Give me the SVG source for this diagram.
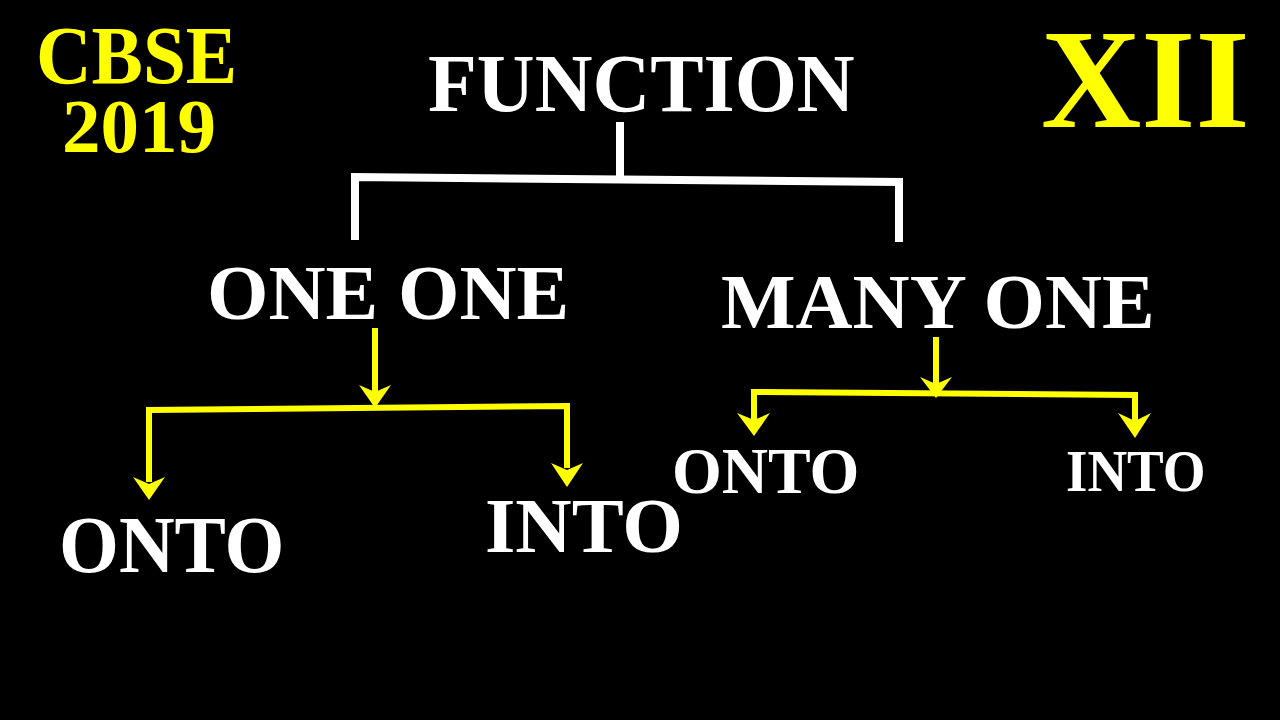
<svg xmlns="http://www.w3.org/2000/svg" width="1280" height="720" viewBox="0 0 1280 720">
  <defs>
    <style>
      text { font-family: "Liberation Serif", "Times New Roman", serif; font-weight: bold; }
      .yel { fill: #ffff00; }
      .wht { fill: #ffffff; }
      .wline { fill: none; stroke: #ffffff; stroke-width: 8; stroke-linecap: butt; stroke-linejoin: miter; }
      .yline { fill: none; stroke: #ffff00; stroke-width: 6; stroke-linecap: butt; stroke-linejoin: miter; }
      .head { fill: #ffff00; }
    </style>
  </defs>
  <rect x="0" y="0" width="1280" height="720" fill="#000000"/>

  <g id="badge-cbse">
    <text class="yel" font-size="77" transform="translate(36 83) scale(1 1.07)">CBSE</text>
    <text class="yel" x="62" y="152" font-size="77">2019</text>
  </g>
  <g id="badge-class">
    <text class="yel" font-size="139" transform="translate(1041 127) scale(1 1.02)">XII</text>
  </g>

  <g id="node-function">
    <text class="wht" font-size="80" transform="translate(428 111) scale(1 1.02)">FUNCTION</text>
  </g>
  <g id="node-one-one">
    <text class="wht" x="207" y="319" font-size="79">ONE ONE</text>
  </g>
  <g id="node-many-one">
    <text class="wht" x="721" y="328" font-size="79">MANY ONE</text>
  </g>
  <g id="node-onto-1">
    <text class="wht" font-size="77" transform="translate(59 572) scale(1 1.04)">ONTO</text>
  </g>
  <g id="node-into-1">
    <text class="wht" x="485" y="552" font-size="78">INTO</text>
  </g>
  <g id="node-onto-2">
    <text class="wht" font-size="64" transform="translate(672 493) scale(1 1.04)">ONTO</text>
  </g>
  <g id="node-into-2">
    <text class="wht" font-size="55" transform="translate(1066 491) scale(1 1.08)">INTO</text>
  </g>

  <g id="connectors">
    <!-- FUNCTION bracket -->
    <path class="wline" d="M620 122 V178"/>
    <path class="wline" d="M355 240 V177 L899 182 V242"/>

    <!-- ONE ONE branch -->
    <path class="yline" d="M375 328 V392"/>
    <path class="head" d="M359 385 L375 392 L391 385 L375 408 Z"/>
    <path class="yline" d="M149 482 V410 L567 406 V468"/>
    <path class="head" d="M133 477 L149 484 L165 477 L149 500 Z"/>
    <path class="head" d="M551 463 L567 470 L583 463 L567 487 Z"/>

    <!-- MANY ONE branch -->
    <path class="yline" d="M936 337 V384"/>
    <path class="head" d="M920 377 L936 384 L952 377 L936 398 Z"/>
    <path class="yline" d="M754 420 V392 L1135 395 V421"/>
    <path class="head" d="M737 413 L754 420 L770 413 L754 436 Z"/>
    <path class="head" d="M1118 413 L1135 421 L1151 413 L1135 438 Z"/>
  </g>
</svg>
